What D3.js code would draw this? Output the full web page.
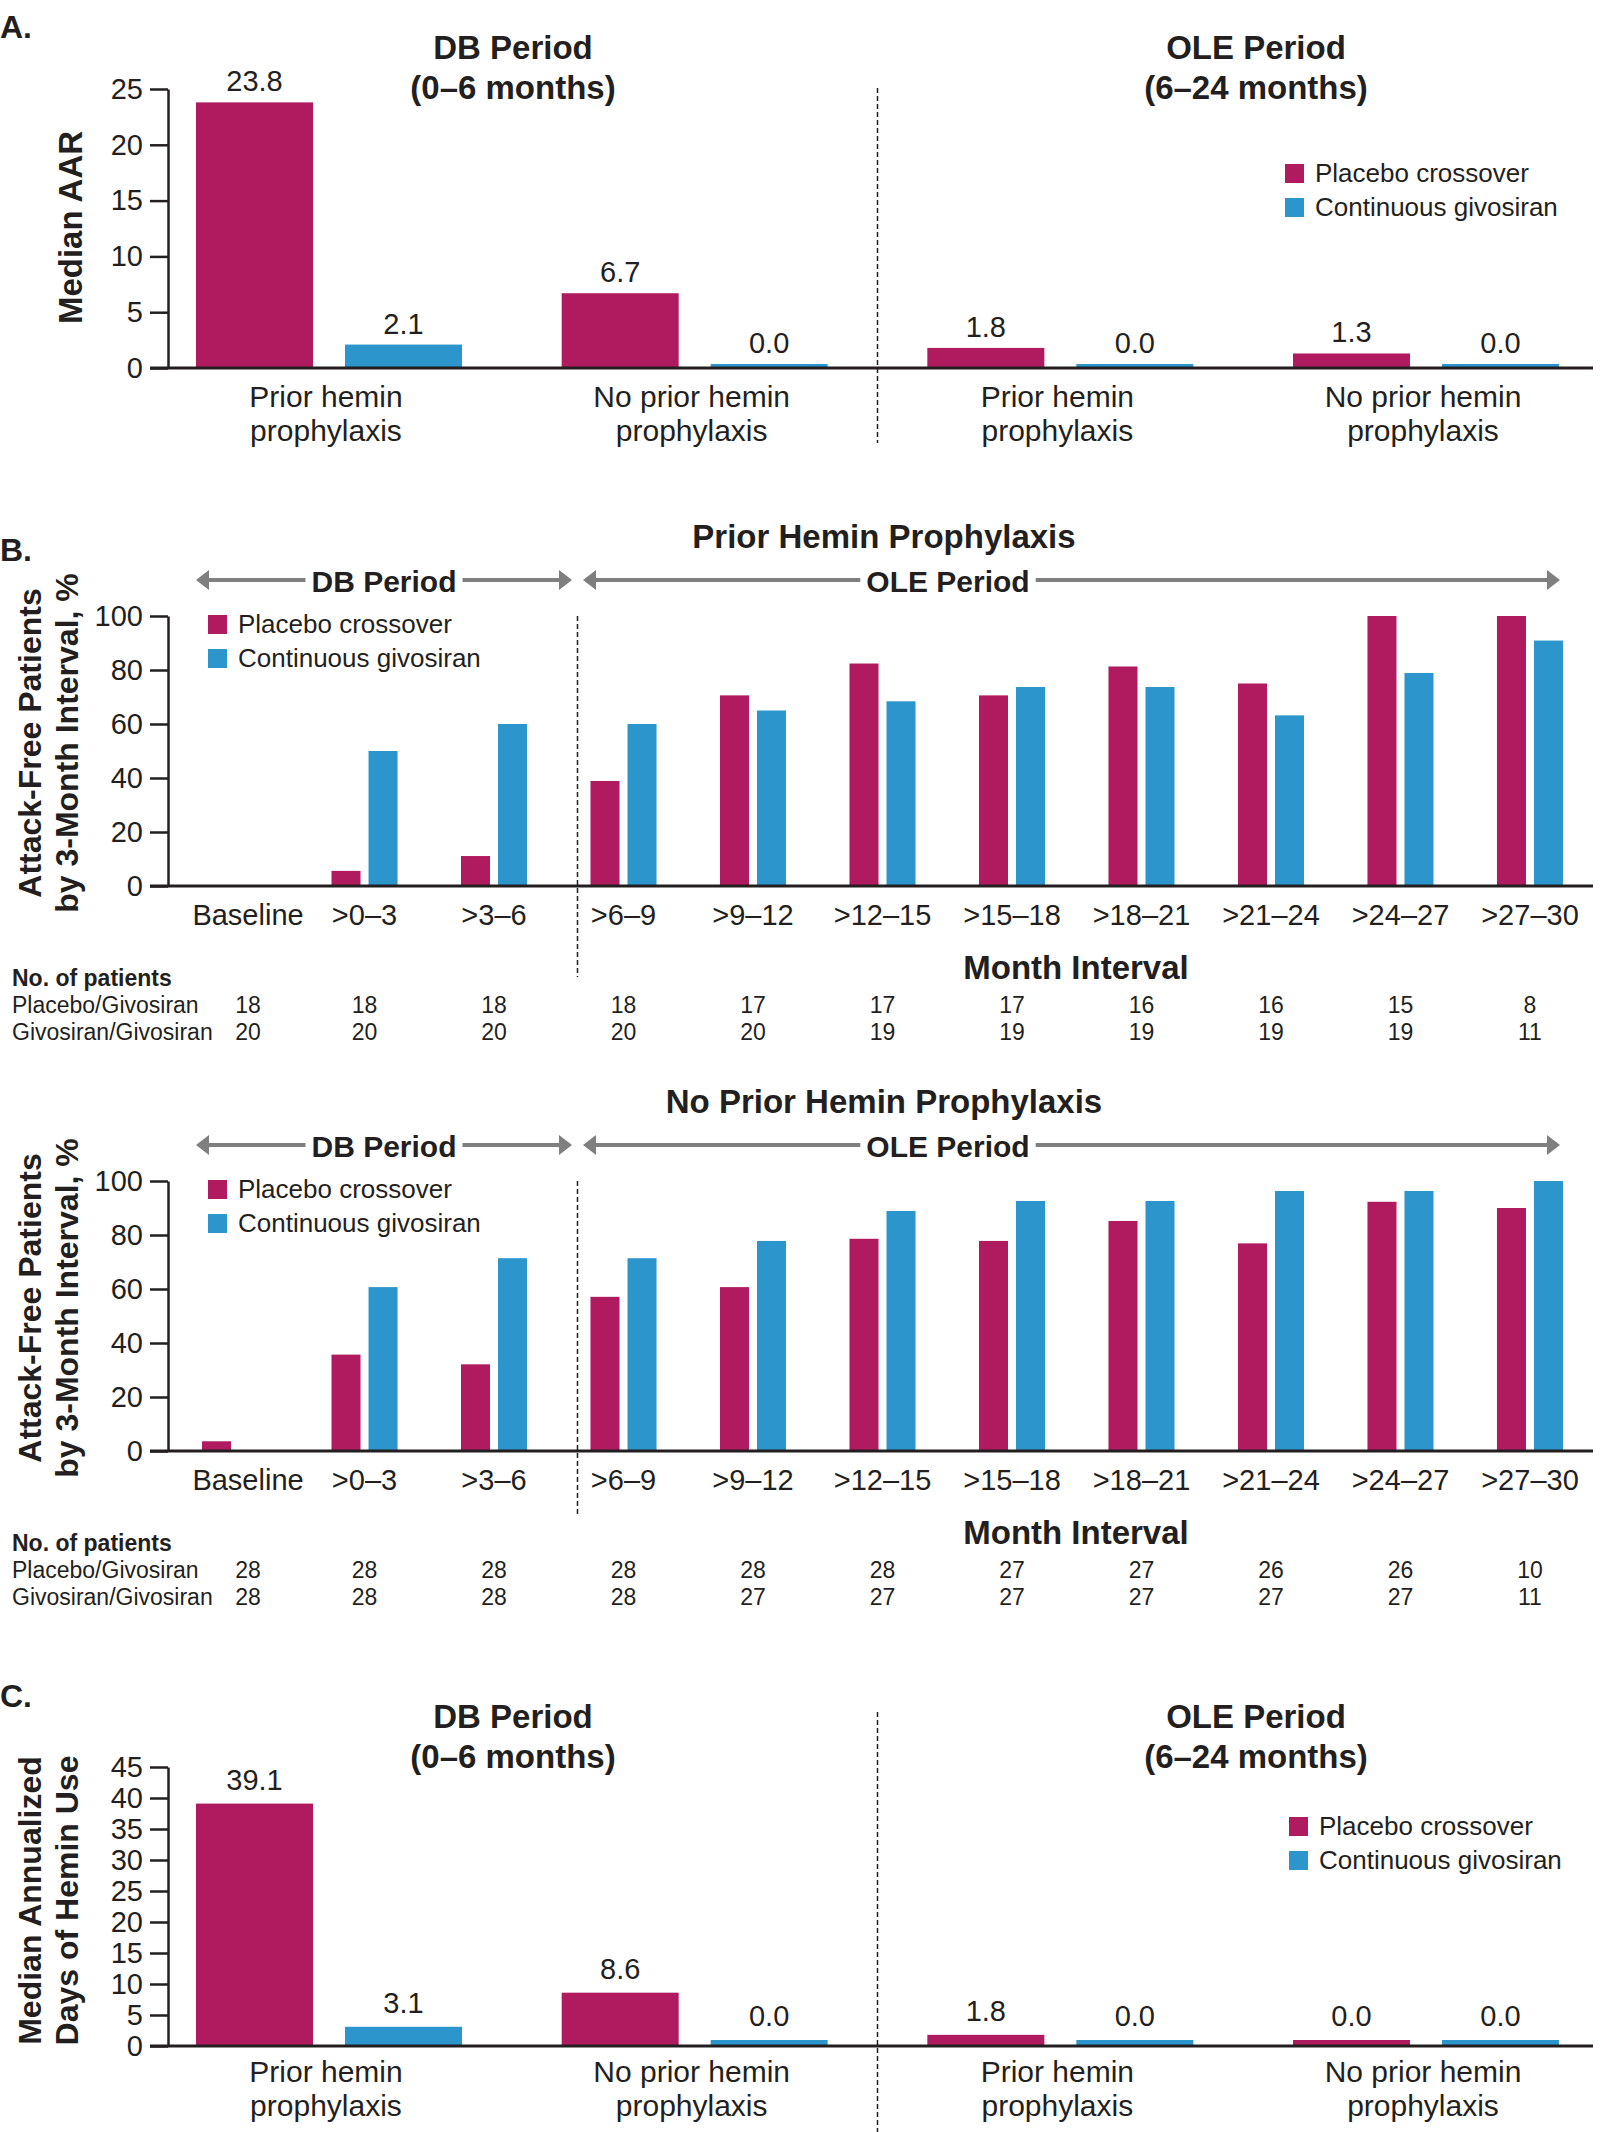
<!DOCTYPE html>
<html><head><meta charset="utf-8">
<script src="https://cdn.jsdelivr.net/npm/d3@7"></script>
<style>body{margin:0;background:#fff}svg{display:block}</style>
</head><body>
<script>
// ---------------- DATA ----------------
const seriesNames = ["Placebo crossover", "Continuous givosiran"];
const acCategories = ["DB: Prior hemin prophylaxis", "DB: No prior hemin prophylaxis", "OLE: Prior hemin prophylaxis", "OLE: No prior hemin prophylaxis"];
const acCategoryLines = [["Prior hemin","prophylaxis"],["No prior hemin","prophylaxis"],["Prior hemin","prophylaxis"],["No prior hemin","prophylaxis"]];
const periodTitles = [["DB Period","(0–6 months)"],["OLE Period","(6–24 months)"]];

const aarPlacebo = [23.8, 6.7, 1.8, 1.3];
const aarGivosiran = [2.1, 0.0, 0.0, 0.0];
const aarTicks = [0, 5, 10, 15, 20, 25];

const heminPlacebo = [39.1, 8.6, 1.8, 0.0];
const heminGivosiran = [3.1, 0.0, 0.0, 0.0];
const heminTicks = [0, 5, 10, 15, 20, 25, 30, 35, 40, 45];

const intervals = ["Baseline", ">0–3", ">3–6", ">6–9", ">9–12", ">12–15", ">15–18", ">18–21", ">21–24", ">24–27", ">27–30"];
const pctTicks = [0, 20, 40, 60, 80, 100];
const priorPlacebo   = [0, 5.6, 11.1, 38.9, 70.6, 82.4, 70.6, 81.3, 75.0, 100, 100];
const priorGivosiran = [0, 50.0, 60.0, 60.0, 65.0, 68.4, 73.7, 73.7, 63.2, 78.9, 90.9];
const noPriorPlacebo   = [3.6, 35.7, 32.1, 57.1, 60.7, 78.6, 77.8, 85.2, 76.9, 92.3, 90.0];
const noPriorGivosiran = [0, 60.7, 71.4, 71.4, 77.8, 88.9, 92.6, 92.6, 96.3, 96.3, 100];
const nRowLabels = ["Placebo/Givosiran", "Givosiran/Givosiran"];
const priorNPlacebo   = [18, 18, 18, 18, 17, 17, 17, 16, 16, 15, 8];
const priorNGivosiran = [20, 20, 20, 20, 20, 19, 19, 19, 19, 19, 11];
const noPriorNPlacebo   = [28, 28, 28, 28, 28, 28, 27, 27, 26, 26, 10];
const noPriorNGivosiran = [28, 28, 28, 28, 27, 27, 27, 27, 27, 27, 11];

// ---------------- SETUP ----------------
const W = 1600, H = 2132;
const FONT = "'Liberation Sans', Arial, Helvetica, sans-serif";
const INK = "#231F20", GREY = "#7F7F7F";
const color = d3.scaleOrdinal().domain(seriesNames).range(["#B01A5F", "#2B95CC"]);
const fmt = d3.format(".1f");

const svg = d3.select("body").append("svg")
  .attr("width", W).attr("height", H).attr("font-family", FONT);
svg.append("rect").attr("width", W).attr("height", H).attr("fill", "#fff");

function txt(g, x, y, s, size, opt = {}) {
  return g.append("text").attr("x", x).attr("y", y)
    .attr("font-size", size).attr("font-weight", opt.bold ? "bold" : "normal")
    .attr("text-anchor", opt.anchor || "start").attr("fill", INK).text(s);
}
function vtext(g, bx, cy, s, size) {
  return g.append("text").attr("transform", `translate(${bx},${cy}) rotate(-90)`)
    .attr("text-anchor", "middle").attr("font-size", size).attr("font-weight", "bold")
    .attr("fill", INK).text(s);
}
function legend(g, x, y, gap) {
  seriesNames.forEach((s, i) => {
    g.append("rect").attr("x", x).attr("y", y + i * gap).attr("width", 19).attr("height", 19).attr("fill", color(s));
    txt(g, x + 30, y + i * gap + 18, s, 26);
  });
}
function yAxis(g, y, ticks) {
  const ax = g.append("g").attr("transform", "translate(168,0)")
    .call(d3.axisLeft(y).tickValues(ticks).tickSize(18).tickSizeOuter(0).tickPadding(7));
  ax.attr("font-size", 29).attr("font-family", FONT);
  ax.select(".domain").attr("stroke", INK).attr("stroke-width", 2.5);
  ax.selectAll(".tick line").attr("stroke", INK).attr("stroke-width", 2.5);
  ax.selectAll(".tick text").attr("fill", INK);
}
function baseline(g, y) {
  g.append("line").attr("x1", 150).attr("x2", 1593).attr("y1", y(0)).attr("y2", y(0))
    .attr("stroke", INK).attr("stroke-width", 3);
}
function dashed(g, x, y1, y2) {
  g.append("line").attr("x1", x).attr("x2", x).attr("y1", y1).attr("y2", y2)
    .attr("stroke", INK).attr("stroke-width", 1.5).attr("stroke-dasharray", "5,3");
}

// ---------------- PANELS A & C ----------------
function medianPanel(cfg) {
  const g = svg.append("g");
  const x = d3.scaleBand().domain(acCategories).range([196, 1559]).paddingInner(0.2726);
  const xs = d3.scaleBand().domain(seriesNames).range([0, x.bandwidth()]).paddingInner(0.2148);
  const y = d3.scaleLinear().domain([0, d3.max(cfg.ticks)]).range(cfg.yRange);
  const data = [];
  acCategories.forEach((c, i) => {
    data.push({ c, s: seriesNames[0], v: cfg.placebo[i] });
    data.push({ c, s: seriesNames[1], v: cfg.givo[i] });
  });
  const top = d => Math.min(y(d.v), y(0) - cfg.minH);
  g.selectAll("rect.bar").data(data).join("rect").attr("class", "bar")
    .attr("x", d => x(d.c) + xs(d.s)).attr("width", xs.bandwidth())
    .attr("y", top).attr("height", d => y(0) - top(d))
    .attr("fill", d => color(d.s));
  g.selectAll("text.val").data(data).join("text").attr("class", "val")
    .attr("x", d => x(d.c) + xs(d.s) + xs.bandwidth() / 2)
    .attr("y", d => top(d) - cfg.labelGap)
    .attr("text-anchor", "middle").attr("font-size", 29).attr("fill", INK)
    .text(d => fmt(d.v));
  yAxis(g, y, cfg.ticks);
  baseline(g, y);
  // category labels
  acCategories.forEach((c, i) => {
    acCategoryLines[i].forEach((l, j) =>
      txt(g, x(c) + x.bandwidth() / 2 - 3, cfg.catY + j * 34, l, 30, { anchor: "middle" }));
  });
  // separator between DB and OLE
  const sep = (x(acCategories[1]) + x.bandwidth() + x(acCategories[2])) / 2;
  dashed(g, sep, cfg.dashTop, cfg.dashBottom);
  // titles
  const centers = [513, 1256];
  periodTitles.forEach((t, i) => {
    txt(g, centers[i], cfg.titleY, t[0], 33, { bold: true, anchor: "middle" });
    txt(g, centers[i], cfg.titleY + 40, t[1], 33, { bold: true, anchor: "middle" });
  });
  txt(g, 0, cfg.letterY, cfg.letter, 32, { bold: true });
  legend(g, cfg.legendX, cfg.legendY, 34);
  const ymid = (cfg.yRange[0] + cfg.yRange[1]) / 2 + cfg.yTitleShift;
  cfg.yTitle.forEach((l, j) => vtext(g, cfg.yTitleX[j], ymid, l, cfg.yTitleSize));
}

// ---------------- PANEL B ----------------
function arrowHead(g, tipX, yy, dir) {
  const b = tipX - dir * 13;
  g.append("path").attr("d", `M${tipX},${yy}L${b},${yy - 10}L${b},${yy + 10}Z`).attr("fill", GREY);
}
function periodArrow(g, leftTip, rightTip, cx, yy, label) {
  const t = txt(g, cx, yy + 12, label, 30, { bold: true, anchor: "middle" });
  const bb = t.node().getBBox();
  arrowHead(g, leftTip, yy, -1);
  arrowHead(g, rightTip, yy, 1);
  [[leftTip + 12, bb.x - 6], [bb.x + bb.width + 6, rightTip - 12]].forEach(([a, b]) =>
    g.append("line").attr("x1", a).attr("x2", b).attr("y1", yy).attr("y2", yy)
      .attr("stroke", GREY).attr("stroke-width", 4));
}
function pctPanel(cfg) {
  const g = svg.append("g");
  const dy = cfg.dy;
  const x = d3.scaleBand().domain(intervals).range([202, 1563]).paddingInner(0.49);
  const xs = d3.scaleBand().domain(seriesNames).range([0, x.bandwidth()]).paddingInner(0.216);
  const y = d3.scaleLinear().domain([0, 100]).range([886 + dy, 616 + dy]);
  const data = [];
  intervals.forEach((c, i) => {
    data.push({ c, s: seriesNames[0], v: cfg.placebo[i] });
    data.push({ c, s: seriesNames[1], v: cfg.givo[i] });
  });
  g.selectAll("rect.bar").data(data.filter(d => d.v > 0)).join("rect").attr("class", "bar")
    .attr("x", d => x(d.c) + xs(d.s)).attr("width", xs.bandwidth())
    .attr("y", d => y(d.v)).attr("height", d => y(0) - y(d.v))
    .attr("fill", d => color(d.s));
  yAxis(g, y, pctTicks);
  baseline(g, y);
  const colX = (c, i) => x(c) + x.bandwidth() / 2 + (i === 0 ? 13 : 0);
  intervals.forEach((c, i) => txt(g, colX(c, i), 925 + dy, c, 29, { anchor: "middle" }));
  dashed(g, x(intervals[3]) - 13, 616 + dy, cfg.dashBottom);
  txt(g, 884, 548 + dy, cfg.title, 33, { bold: true, anchor: "middle" });
  periodArrow(g, 196, 572, 384, 580 + dy, "DB Period");
  periodArrow(g, 583, 1560, 948, 580 + dy, "OLE Period");
  legend(g, 208, 615 + dy, 34);
  vtext(g, 41, 743 + dy, "Attack-Free Patients", 32);
  vtext(g, 78, 743 + dy, "by 3-Month Interval, %", 32);
  txt(g, 1076, 979 + dy, "Month Interval", 33, { bold: true, anchor: "middle" });
  txt(g, 12, 986 + dy, "No. of patients", 23, { bold: true });
  nRowLabels.forEach((l, j) => txt(g, 12, 1013 + dy + j * 27, l, 23));
  [cfg.nP, cfg.nG].forEach((arr, j) =>
    intervals.forEach((c, i) => txt(g, colX(c, i), 1013 + dy + j * 27, arr[i], 23, { anchor: "middle" })));
  if (cfg.letter) txt(g, 0, 561, cfg.letter, 32, { bold: true });
}

medianPanel({
  letter: "A.", letterY: 38, titleY: 59,
  ticks: aarTicks, yRange: [368, 89], placebo: aarPlacebo, givo: aarGivosiran,
  minH: 4, labelGap: 11, catY: 407, dashTop: 88, dashBottom: 443,
  legendX: 1285, legendY: 164,
  yTitle: ["Median AAR"], yTitleX: [82], yTitleSize: 33, yTitleShift: -1
});
pctPanel({ dy: 0, letter: "B.", title: "Prior Hemin Prophylaxis",
  placebo: priorPlacebo, givo: priorGivosiran, nP: priorNPlacebo, nG: priorNGivosiran, dashBottom: 977 });
pctPanel({ dy: 565, title: "No Prior Hemin Prophylaxis",
  placebo: noPriorPlacebo, givo: noPriorGivosiran, nP: noPriorNPlacebo, nG: noPriorNGivosiran, dashBottom: 1517 });
medianPanel({
  letter: "C.", letterY: 1707, titleY: 1728,
  ticks: heminTicks, yRange: [2046, 1767], placebo: heminPlacebo, givo: heminGivosiran,
  minH: 6, labelGap: 14, catY: 2082, dashTop: 1712, dashBottom: 2132,
  legendX: 1289, legendY: 1817,
  yTitle: ["Median Annualized", "Days of Hemin Use"], yTitleX: [41, 78], yTitleSize: 32, yTitleShift: -6
});
</script>
</body></html>
